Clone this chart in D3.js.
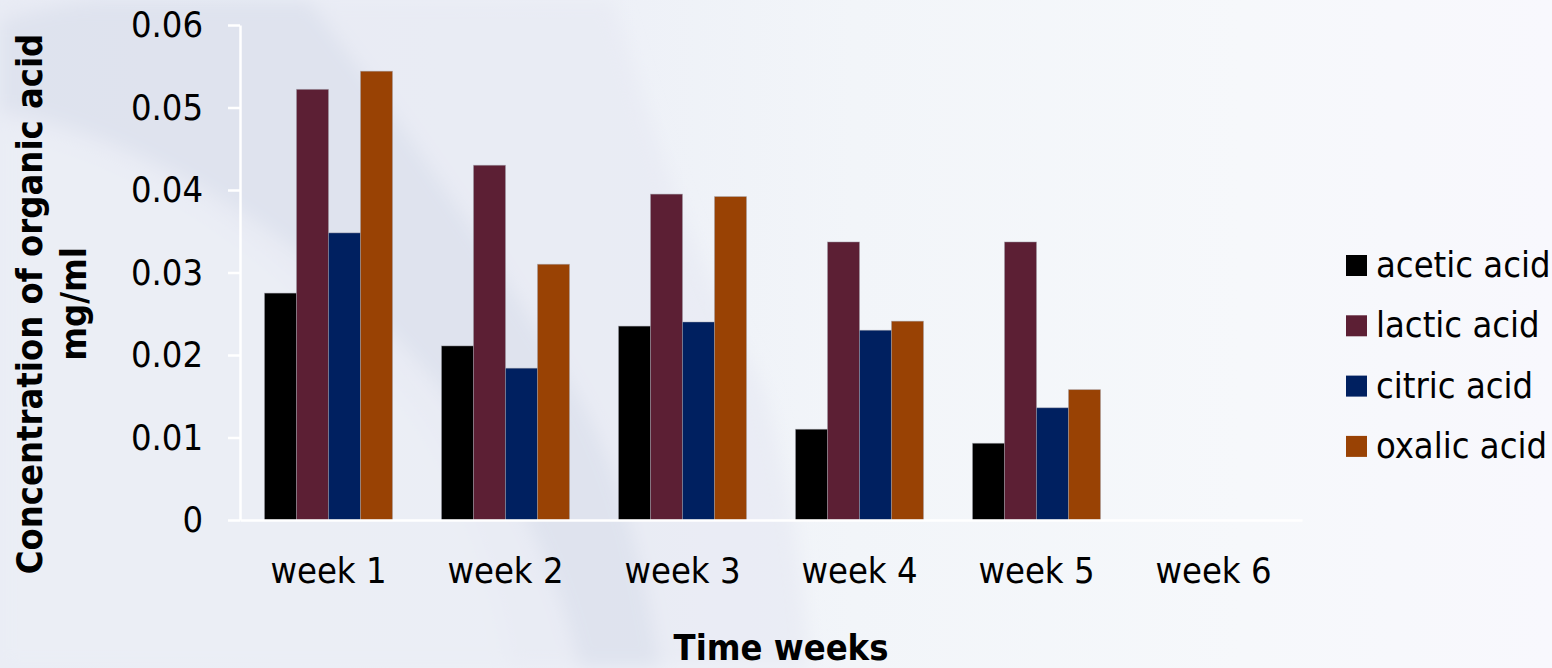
<!DOCTYPE html>
<html>
<head>
<meta charset="utf-8">
<script src="https://cdn.jsdelivr.net/npm/d3@7"></script>
<style>
  html, body { margin: 0; padding: 0; background: #eceff6; }
  svg { display: block; }
  text { font-family: Tahoma, "DejaVu Sans Condensed", "DejaVu Sans", sans-serif; fill: #000; }
</style>
</head>
<body>
<svg id="chart" width="1552" height="668"></svg>
<script>
// Organic acid concentration (mg/ml) measured each week
const weeks = ["week 1", "week 2", "week 3", "week 4", "week 5", "week 6"];
const seriesNames = ["acetic acid", "lactic acid", "citric acid", "oxalic acid"];
const acetic = [0.0275, 0.0211, 0.0235, 0.0110, 0.0093, null];
const lactic = [0.0522, 0.0430, 0.0395, 0.0337, 0.0337, null];
const citric = [0.0348, 0.0184, 0.0240, 0.0230, 0.0136, null];
const oxalic = [0.0544, 0.0310, 0.0392, 0.0241, 0.0158, null];
const seriesColors = ["#000000", "#5c1f34", "#002060", "#994204"];
const yTicks = [0, 0.01, 0.02, 0.03, 0.04, 0.05, 0.06];

const seriesValues = [acetic, lactic, citric, oxalic];
const W = 1552, H = 668;
const svg = d3.select("#chart");

// ---- slide-style backdrop ----
const defs = svg.append("defs");
const bg = defs.append("linearGradient").attr("id", "bgGrad").attr("x1", 0).attr("x2", 1).attr("y1", 0).attr("y2", 0);
[[0, "#e9ecf5"], [0.38, "#edf0f7"], [0.55, "#f2f5f9"], [0.8, "#f6f8fb"], [1, "#f8f8fd"]]
  .forEach(([o, c]) => bg.append("stop").attr("offset", o).attr("stop-color", c));
defs.append("filter").attr("id", "soft").append("feGaussianBlur").attr("stdDeviation", 9);

svg.append("rect").attr("width", W).attr("height", H).attr("fill", "url(#bgGrad)");
const deco = svg.append("g").attr("filter", "url(#soft)");
// broad mid-tone sweep
deco.append("path")
  .attr("d", "M0,0 L613,0 C650,120 690,260 760,380 C790,470 800,560 810,668 L0,668 Z")
  .attr("fill", "#e8ebf4").attr("opacity", 0.8);
// darker curved band across the upper left
deco.append("path")
  .attr("d", "M0,22 L0,110 C150,135 330,250 450,400 C520,490 560,580 580,668 L660,668 C640,540 610,440 560,367 C490,250 400,120 308,0 L95,0 Q40,8 0,22 Z")
  .attr("fill", "#dcdfed").attr("opacity", 0.7);
// lighter lower-left area
deco.append("path")
  .attr("d", "M0,125 C140,150 300,260 420,420 C470,500 500,590 510,668 L0,668 Z")
  .attr("fill", "#edf0f7").attr("opacity", 0.7);

// ---- scales ----
const x0 = d3.scaleBand().domain(weeks).range([240, 1302]).paddingInner(49 / 177).paddingOuter(49 / 354);
const x1 = d3.scaleBand().domain(seriesNames).range([0, x0.bandwidth()]);
const y = d3.scaleLinear().domain([0, 0.06]).range([520, 25]);
const color = d3.scaleOrdinal().domain(seriesNames).range(seriesColors);

// ---- bars ----
const groups = svg.append("g").selectAll("g").data(weeks).join("g")
  .attr("transform", d => `translate(${x0(d)},0)`);
groups.selectAll("rect")
  .data((w, i) => seriesNames.map((s, k) => ({ s, v: seriesValues[k][i] })).filter(d => d.v != null))
  .join("rect")
  .attr("x", d => x1(d.s))
  .attr("width", x1.bandwidth())
  .attr("y", d => y(d.v))
  .attr("height", d => y(0) - y(d.v))
  .attr("fill", d => color(d.s))
  .attr("stroke", "rgba(160,160,170,0.55)")
  .attr("stroke-width", 0.8);

// ---- axes ----
const yAxis = svg.append("g").attr("transform", "translate(240,0)")
  .call(d3.axisLeft(y).tickValues(yTicks).tickSize(12).tickSizeOuter(0).tickPadding(25)
    .tickFormat(d => d === 0 ? "0" : d3.format(".2f")(d)));
yAxis.selectAll("path, line").attr("stroke", "#ffffff").attr("stroke-width", 2.5);
yAxis.selectAll("text").attr("font-size", 36);

const xAxis = svg.append("g").attr("transform", "translate(0,520)")
  .call(d3.axisBottom(x0).tickSize(0).tickSizeOuter(0));
xAxis.select(".domain").attr("stroke", "#ffffff").attr("stroke-width", 2.5);
xAxis.selectAll("text").attr("y", 63).attr("dy", 0).attr("font-size", 36);
svg.selectAll(".tick text").attr("fill", "#000");
svg.selectAll("g[font-family]").attr("font-family", null);

// ---- axis titles ----
const yTitle = svg.append("g").attr("font-weight", "bold").attr("font-size", 36);
yTitle.append("text").attr("text-anchor", "middle")
  .attr("transform", "translate(42,304) rotate(-90)").text("Concentration of organic acid");
yTitle.append("text").attr("text-anchor", "middle")
  .attr("transform", "translate(86,304) rotate(-90)").text("mg/ml");

svg.append("text").attr("x", 781).attr("y", 660).attr("text-anchor", "middle")
  .attr("font-weight", "bold").attr("font-size", 36).text("Time weeks");

// ---- legend ----
const legend = svg.append("g").attr("transform", "translate(1346,255)");
const item = legend.selectAll("g").data(seriesNames).join("g")
  .attr("transform", (d, i) => `translate(0,${i * 60.3})`);
item.append("rect").attr("width", 21).attr("height", 21).attr("fill", d => color(d));
item.append("text").attr("x", 30).attr("y", 22).attr("font-size", 36).text(d => d);
</script>
</body>
</html>
